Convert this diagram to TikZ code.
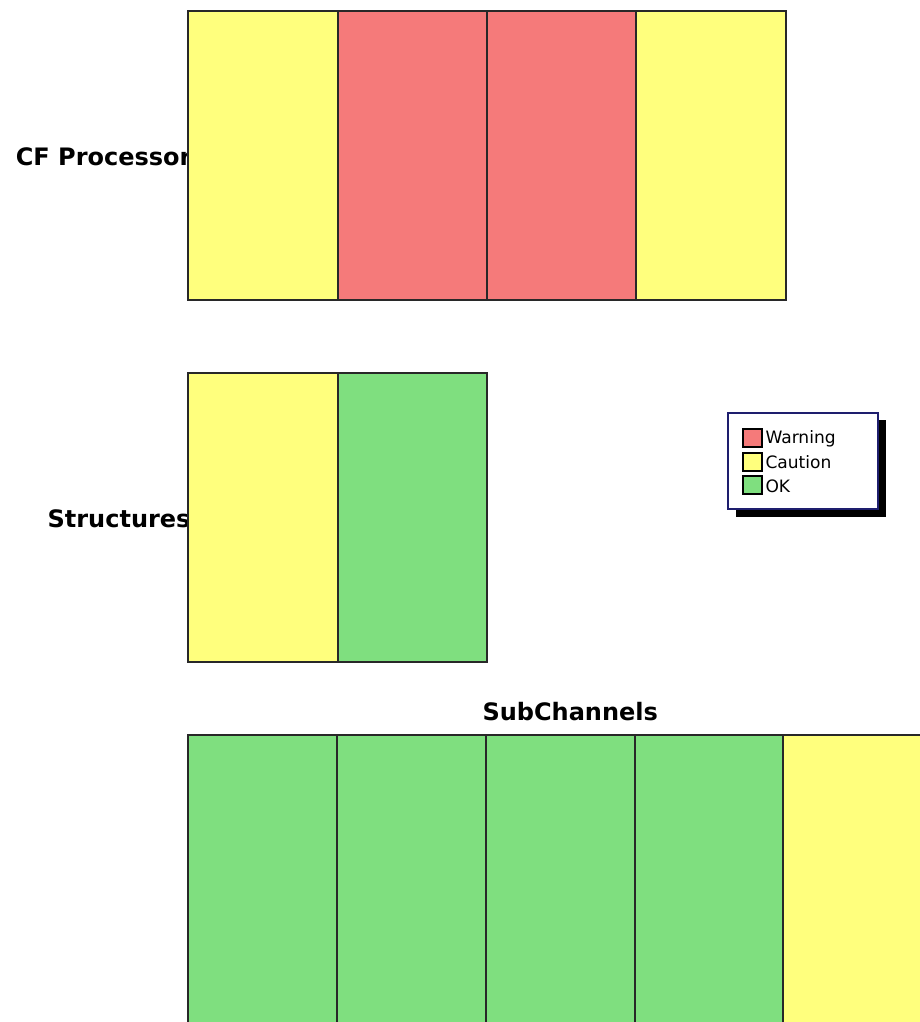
\documentclass[tikz,border=0pt]{standalone}
\usepackage{fontspec}
\setmainfont{DejaVu Sans}
\definecolor{warnred}{RGB}{245,122,122}
\definecolor{cautionyellow}{RGB}{255,255,125}
\definecolor{okgreen}{RGB}{127,223,127}
\definecolor{edgegray}{RGB}{40,40,40}
\tikzset{every picture/.style={line width=0.75pt}}
\tikzset{
  cell/.style={draw=edgegray, line width=1.1pt},
  rowlabel/.style={font=\fontsize{18}{21}\selectfont\bfseries, inner sep=0pt},
  keytext/.style={font=\fontsize{12.8}{14}\selectfont, inner sep=0pt, anchor=west},
  keybox/.style={draw=black, line width=0.8pt}
}

\begin{document}
\begin{tikzpicture}[x=0.75pt,y=0.75pt,yscale=-1,xscale=1]
\clip (0,0) rectangle (920,1022);
\fill[white] (0,0) rectangle (920,1022);

%Text: row labels (drawn first, the boxes cover their ends)
\node[rowlabel, anchor=east] (lblcf) at (192,157) {CF Processor};
\node[rowlabel, anchor=east] (lblstruct) at (191,519) {Structures};
\node[rowlabel, anchor=west] (lblsub) at (482,712) {SubChannels};

%Shape: Rectangle [CF Processor row]
\draw[cell, fill=cautionyellow] (188,11) -- (338,11) -- (338,300) -- (188,300) -- cycle ;
\draw[cell, fill=warnred] (338,11) -- (487,11) -- (487,300) -- (338,300) -- cycle ;
\draw[cell, fill=warnred] (487,11) -- (636,11) -- (636,300) -- (487,300) -- cycle ;
\draw[cell, fill=cautionyellow] (636,11) -- (786,11) -- (786,300) -- (636,300) -- cycle ;

%Shape: Rectangle [Structures row]
\draw[cell, fill=cautionyellow] (188,373) -- (338,373) -- (338,662) -- (188,662) -- cycle ;
\draw[cell, fill=okgreen] (338,373) -- (487,373) -- (487,662) -- (338,662) -- cycle ;

%Shape: Rectangle [SubChannels row, runs off the page]
\draw[cell, fill=okgreen] (188,735) -- (337,735) -- (337,1030) -- (188,1030) -- cycle ;
\draw[cell, fill=okgreen] (337,735) -- (486,735) -- (486,1030) -- (337,1030) -- cycle ;
\draw[cell, fill=okgreen] (486,735) -- (635,735) -- (635,1030) -- (486,1030) -- cycle ;
\draw[cell, fill=okgreen] (635,735) -- (783,735) -- (783,1030) -- (635,1030) -- cycle ;
\draw[cell, fill=cautionyellow] (783,735) -- (933,735) -- (933,1030) -- (783,1030) -- cycle ;

%Shape: Legend box with drop shadow
\fill[black] (736,420) -- (886,420) -- (886,517) -- (736,517) -- cycle ;
\draw[draw={rgb, 255:red, 30; green, 30; blue, 110 }, fill=white, line width=0.9pt] (728,413) -- (878,413) -- (878,509) -- (728,509) -- cycle ;

%Shape: Legend swatches
\draw[keybox, fill=warnred] (743,429) -- (762,429) -- (762,447) -- (743,447) -- cycle ;
\draw[keybox, fill=cautionyellow] (743,453) -- (762,453) -- (762,471) -- (743,471) -- cycle ;
\draw[keybox, fill=okgreen] (743,476) -- (762,476) -- (762,494) -- (743,494) -- cycle ;

%Text: legend entries
\node[keytext] (keywarn) at (765,439) {Warning};
\node[keytext] (keycaution) at (765,462) {Caution};
\node[keytext] (keyok) at (765,486) {OK};

\end{tikzpicture}
\end{document}
